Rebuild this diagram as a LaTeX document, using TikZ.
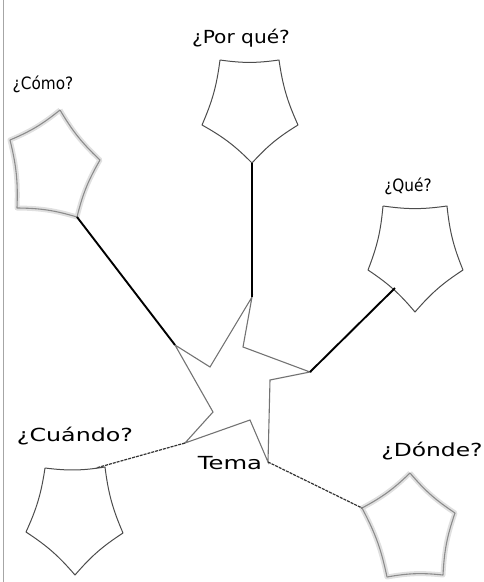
\documentclass[tikz,border=0pt]{standalone}
\usepackage{fontspec}
\setmainfont{DejaVu Sans}
\usetikzlibrary{calc}
\begin{document}
\begin{tikzpicture}[x=1pt,y=-1pt,
  edge/.style={draw=black!70,line width=1pt,line join=round},
  glowedge/.style={draw=black!12,line width=5pt,line join=round},
  softedge/.style={draw=black!45,line width=1.1pt,line join=round},
  mid/.style={draw=black!55,line width=1.1pt,line join=miter},
  thick link/.style={draw=black,line width=1.9pt},
  dash link/.style={draw=black!80,line width=1.2pt,dash pattern=on 3pt off 1pt},
  lbl/.style={font=\fontsize{18}{18}\selectfont,inner sep=0pt},
  small lbl/.style={font=\fontsize{17}{17}\selectfont,inner sep=0pt,xscale=0.9},
  cv/.style={bend right=8}]
\useasboundingbox (0,0) rectangle (483,582);
\draw[black!35,line width=1pt] (3,0) -- (3,582);

% ---- ¿Por qué? ----
\coordinate (p1) at (220,60); \coordinate (p2) at (279,60); \coordinate (p3) at (298,125);
\coordinate (p4) at (252,163); \coordinate (p5) at (202,125);
\draw[edge] (p1) to[cv] (p2) to[cv] (p3) to[cv] (p4) to[cv] (p5) to[cv] (p1);
\node[lbl,xscale=1.12] (lporque) at (241,38) {¿Por qué?};

% ---- ¿Cómo? ----
\coordinate (c1) at (60,110); \coordinate (c2) at (100,160); \coordinate (c3) at (77,217);
\coordinate (c4) at (17,208); \coordinate (c5) at (10,140);
\draw[glowedge] (c1) to[cv] (c2) to[cv] (c3) to[cv] (c4) to[cv] (c5) to[cv] (c1);
\draw[softedge] (c1) to[cv] (c2) to[cv] (c3) to[cv] (c4) to[cv] (c5) to[cv] (c1);
\node[small lbl] (lcomo) at (43,84) {¿Cómo?};

% ---- ¿Qué? ----
\coordinate (q1) at (383,206); \coordinate (q2) at (447,206); \coordinate (q3) at (463,270);
\coordinate (q4) at (415,312); \coordinate (q5) at (368,270);
\draw[edge] (q1) to[cv] (q2) to[cv] (q3) to[cv] (q4) to[cv] (q5) to[cv] (q1);
\coordinate (qc) at (395,288);
\node[small lbl] (lque) at (408,186) {¿Qué?};

% ---- ¿Cuándo? ----
\coordinate (w1) at (45,468); \coordinate (w2) at (105,467); \coordinate (w3) at (123,533);
\coordinate (w4) at (75,575); \coordinate (w5) at (26,532);
\draw[edge] (w1) to[cv] (w2) to[cv] (w3) to[cv] (w4) to[cv] (w5) to[cv] (w1);
\coordinate (wc) at (96,468);
\node[lbl,xscale=1.32] (lcuando) at (75,436) {¿Cuándo?};

% ---- ¿Dónde? ----
\coordinate (d1) at (410,473); \coordinate (d2) at (455,513); \coordinate (d3) at (443,575);
\coordinate (d4) at (387,577); \coordinate (d5) at (362,508);
\draw[glowedge] (d1) to[cv] (d2) to[cv] (d3) to[cv] (d4) to[cv] (d5) to[cv] (d1);
\draw[softedge] (d1) to[cv] (d2) to[cv] (d3) to[cv] (d4) to[cv] (d5) to[cv] (d1);
\node[lbl,xscale=1.3] (ldonde) at (432,451) {¿Dónde?};

% ---- Tema (central star) ----
\coordinate (t1) at (252,297); \coordinate (t2) at (243,347); \coordinate (t3) at (310,372);
\coordinate (t4) at (270,380); \coordinate (t5) at (268,462); \coordinate (t6) at (250,420);
\coordinate (t7) at (185,443); \coordinate (t8) at (213,412); \coordinate (t9) at (175,345);
\coordinate (t10) at (210,367);
\draw[mid] (t1) -- (t2) -- (t3) -- (t4) -- (t5) -- (t6) -- (t7) -- (t8) -- (t9) -- (t10) -- cycle;
\node[lbl,xscale=1.35] (ltema) at (230,463) {Tema};

% ---- connectors ----
\draw[thick link] (c3) -- (t9);
\draw[thick link] (p4) -- (t1);
\draw[thick link] (qc) -- (t3);
\draw[dash link] (t7) -- (wc);
\draw[dash link] (t5) -- (d5);
\end{tikzpicture}
\end{document}
